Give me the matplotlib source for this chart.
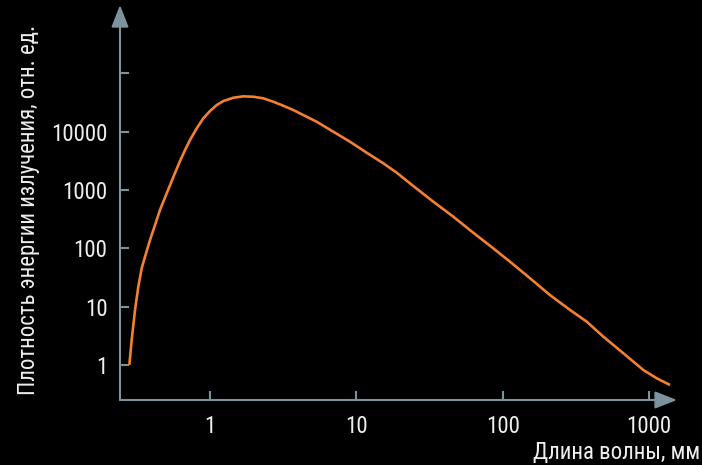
import matplotlib
matplotlib.use('Agg')
import matplotlib.pyplot as plt
from matplotlib.patches import FancyArrowPatch
from matplotlib import font_manager as fm

# ---- data ----
wavelength_mm = [0.281, 0.2916, 0.3073, 0.3236, 0.3413, 0.3596, 0.389, 0.4208,
                 0.455, 0.506, 0.5613, 0.6237, 0.675, 0.730, 0.811, 0.900, 1.0,
                 1.111, 1.233, 1.443, 1.689, 1.976, 2.313, 2.708, 3.169, 3.710,
                 4.341, 5.361, 6.961, 9.05, 11.77, 15.29, 18.88, 24.51, 33.57,
                 46.0, 63.0, 86.3, 112.2, 153.8, 210.6, 288.5, 375.3, 487.4,
                 667.4, 914.4, 1129, 1392]
energy_density = [1.0, 2.69, 8.78, 22.0, 45.5, 71.9, 139, 251,
                  455, 879, 1670, 3150, 4850, 7210, 11430, 16980, 22650,
                  28700, 33580, 38290, 40460, 39810, 37410, 32660, 27920, 23550,
                  19300, 14830, 10000, 6740, 4365, 2870, 1983, 1172, 631,
                  349, 185, 100, 59.0, 30.7, 15.8, 8.78, 5.53, 3.06,
                  1.59, 0.821, 0.592, 0.454]
x_ticks = [1, 10, 100, 1000]
x_tick_labels = ["1", "10", "100", "1000"]
y_ticks = [1, 10, 100, 1000, 10000, 100000]
y_tick_labels = ["1", "10", "100", "1000", "10000", ""]
x_label = "Длина волны, мм"
y_label = "Плотность энергии излучения, отн. ед."


def pick_condensed():
    order = ['roboto', 'liberation', 'noto', 'open', 'dejavu', '']
    cands = []
    for f in fm.fontManager.ttflist:
        fn = f.fname.lower().replace('-', '').replace('_', '')
        base = fn.rsplit('/', 1)[-1]
        if not ('condensed' in base or 'narrow' in base):
            continue
        if any(k in base for k in ('bold', 'italic', 'oblique', 'light', 'thin',
                                    'black', 'medium', 'semi', 'extra', 'ultra', 'mono')):
            continue
        if not base.endswith(('.ttf', '.otf')):
            continue
        rank = next(i for i, k in enumerate(order) if k in base)
        cands.append((rank, f.fname))
    if cands:
        cands.sort()
        return fm.FontProperties(fname=cands[0][1])
    return fm.FontProperties(family=['Roboto', 'DejaVu Sans'])


FP = pick_condensed()
SIZE = 16.5
AXIS_C = '#7d929c'
TEXT_C = '#eeeeee'
LINE_C = '#f5802f'

fig = plt.figure(figsize=(7.02, 4.65), dpi=100, facecolor='black')
ax = fig.add_axes([120/702, 65/465, 557/702, 395/465], facecolor='black')
ax.set_xscale('log')
ax.set_yscale('log')
ax.set_xlim(0.2426, 1553)
ax.set_ylim(0.251, 1.49e6)

ax.plot(wavelength_mm, energy_density, color=LINE_C, lw=1.9,
        solid_capstyle='butt', solid_joinstyle='round')

for s in ax.spines.values():
    s.set_visible(False)

ax.set_xticks(x_ticks)
ax.set_xticklabels(x_tick_labels)
ax.set_yticks(y_ticks)
ax.set_yticklabels(y_tick_labels)
ax.minorticks_off()
ax.tick_params(axis='both', direction='in', length=6.5, width=1.5, color=AXIS_C,
               labelcolor=TEXT_C)
ax.tick_params(axis='x', pad=10.5)
ax.tick_params(axis='y', pad=9)
for lab in ax.get_xticklabels() + ax.get_yticklabels():
    lab.set_fontproperties(FP)
    lab.set_fontsize(SIZE)

style = '-|>,head_length=13.5,head_width=5.3'
for start, end in [((0, 0), (1, 0)), ((0, 0), (0, 1))]:
    arr = FancyArrowPatch(start, end, transform=ax.transAxes, arrowstyle=style,
                          mutation_scale=1, color=AXIS_C, lw=1.5,
                          shrinkA=0, shrinkB=0, clip_on=False)
    ax.add_patch(arr)

fig.text(700/702, 1 - 452/465, x_label, ha='right', va='center', fontproperties=FP,
         fontsize=SIZE, color=TEXT_C)
fig.text(29/702, 1 - 210/465, y_label, ha='center', va='center', rotation=90,
         fontproperties=FP, fontsize=SIZE, color=TEXT_C)

fig.savefig('out.png', dpi=100, facecolor='black')
